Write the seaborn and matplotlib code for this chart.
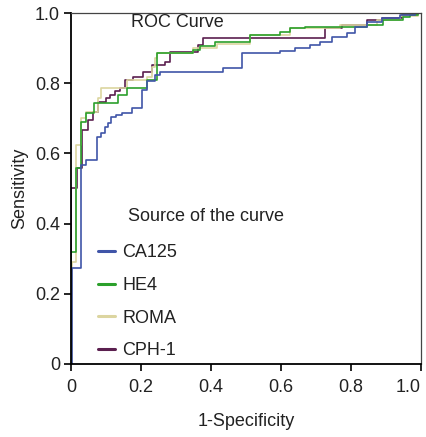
import numpy as np
import pandas as pd
import matplotlib
matplotlib.use("Agg")
import matplotlib.pyplot as plt
from matplotlib.lines import Line2D
import seaborn as sns

# ---- data: ROC staircase points (x where the curve rises, level after rise)
ca125_fpr = [0.0, 0.003, 0.029, 0.043, 0.074, 0.086, 0.097, 0.106, 0.114, 0.129, 0.146,
             0.174, 0.203, 0.217, 0.240, 0.254, 0.434, 0.489, 0.597, 0.640, 0.683,
             0.711, 0.746, 0.789, 0.811, 0.846, 0.889, 0.940, 0.983, 1.0]
ca125_tpr = [0.0, 0.273, 0.567, 0.581, 0.646, 0.658, 0.675, 0.687, 0.704, 0.709, 0.715,
             0.729, 0.781, 0.806, 0.823, 0.832, 0.843, 0.886, 0.892, 0.900, 0.909,
             0.917, 0.932, 0.943, 0.960, 0.974, 0.986, 0.994, 1.0, 1.0]

he4_fpr = [0.0, 0.0, 0.014, 0.029, 0.043, 0.066, 0.134, 0.160, 0.217, 0.246, 0.349,
           0.369, 0.411, 0.511, 0.597, 0.626, 0.669, 0.846, 0.891, 0.949, 0.969, 0.991, 1.0]
he4_tpr = [0.0, 0.319, 0.558, 0.689, 0.715, 0.744, 0.766, 0.786, 0.809, 0.886, 0.895,
           0.906, 0.917, 0.937, 0.946, 0.957, 0.960, 0.966, 0.980, 0.989, 0.994, 1.0, 1.0]

roma_fpr = [0.0, 0.003, 0.014, 0.029, 0.043, 0.077, 0.086, 0.160, 0.217, 0.231, 0.240,
            0.246, 0.349, 0.417, 0.511, 0.626, 0.769, 0.874, 0.940, 0.991, 1.0]
roma_tpr = [0.0, 0.290, 0.624, 0.700, 0.718, 0.758, 0.786, 0.809, 0.818, 0.846, 0.872,
            0.886, 0.900, 0.912, 0.937, 0.957, 0.966, 0.980, 0.991, 1.0, 1.0]

cph1_fpr = [0.0, 0.0, 0.017, 0.031, 0.049, 0.063, 0.077, 0.100, 0.111, 0.126, 0.140,
            0.154, 0.177, 0.206, 0.231, 0.269, 0.283, 0.363, 0.377, 0.726, 0.774,
            0.846, 0.889, 0.946, 0.991, 1.0]
cph1_tpr = [0.0, 0.501, 0.558, 0.667, 0.695, 0.718, 0.746, 0.758, 0.766, 0.778, 0.786,
            0.809, 0.818, 0.832, 0.852, 0.860, 0.889, 0.909, 0.929, 0.957, 0.966,
            0.980, 0.986, 0.994, 1.0, 1.0]

series_names = ["CA125", "HE4", "ROMA", "CPH-1"]
series_colors = ["#4055a8", "#2ca02c", "#dcd5a0", "#5b1f4f"]
x_ticks = [0, 0.2, 0.4, 0.6, 0.8, 1.0]
tick_labels = ["0", "0.2", "0.4", "0.6", "0.8", "1.0"]

frames = []
for name, fx, fy in zip(series_names,
                        [ca125_fpr, he4_fpr, roma_fpr, cph1_fpr],
                        [ca125_tpr, he4_tpr, roma_tpr, cph1_tpr]):
    frames.append(pd.DataFrame({"fpr": fx, "tpr": fy, "curve": name,
                                "order": np.arange(len(fx))}))
df = pd.concat(frames, ignore_index=True)

sns.set_theme(style="white")
plt.rcParams["font.family"] = ["Liberation Sans", "DejaVu Sans"]

FS = 13
TXT = "#222222"

fig = plt.figure(figsize=(4.27, 4.37), dpi=100)
ax = fig.add_axes([71 / 427, 73 / 437, 350 / 427, 351 / 437])

# draw in reverse so CA125 sits at the bottom like the reference
for name, col in list(zip(series_names, series_colors))[::-1]:
    sub = df[df["curve"] == name]
    sns.lineplot(data=sub, x="fpr", y="tpr", ax=ax, color=col, sort=False,
                 estimator=None, drawstyle="steps-post", linewidth=1.2,
                 legend=False)

ax.set_xlim(0, 1.0)
ax.set_ylim(0, 1.0)
ax.set_xticks(x_ticks)
ax.set_xticklabels(tick_labels)
ax.set_yticks(x_ticks)
ax.set_yticklabels(tick_labels)
ax.tick_params(axis="both", which="major", direction="out", length=5, width=1.2,
               color="black", labelsize=FS, labelcolor=TXT,
               bottom=True, left=True)
ax.tick_params(axis="y", pad=3)
ax.tick_params(axis="x", pad=6)
xl = ax.get_xticklabels()
xl[-1].set_horizontalalignment("right")
xl[-1].set_x(1.0)

ax.set_xlabel("1-Specificity", fontsize=FS, color=TXT, labelpad=12)
ax.set_ylabel("Sensitivity", fontsize=FS, color=TXT, labelpad=5)

for s in ["left", "bottom"]:
    ax.spines[s].set_color("black")
    ax.spines[s].set_linewidth(1.3)
for s in ["top", "right"]:
    ax.spines[s].set_color("#444444")
    ax.spines[s].set_linewidth(0.9)

ax.text(0.171, 0.997, "ROC Curve", transform=ax.transAxes, fontsize=FS,
        color=TXT, ha="left", va="top")

ax.text(0.163, 0.419, "Source of the curve", transform=ax.transAxes,
        fontsize=FS, color=TXT, ha="left", va="center")

handles = [Line2D([0], [0], color=c, lw=2.2) for c in series_colors]
leg = ax.legend(handles, series_names, loc="upper left",
                bbox_to_anchor=(0.077, 0.341), frameon=False, fontsize=FS,
                handlelength=0.95, handletextpad=0.4, labelspacing=0.87,
                borderaxespad=0, borderpad=0)
for t in leg.get_texts():
    t.set_color(TXT)

fig.savefig("out.png", dpi=100)
